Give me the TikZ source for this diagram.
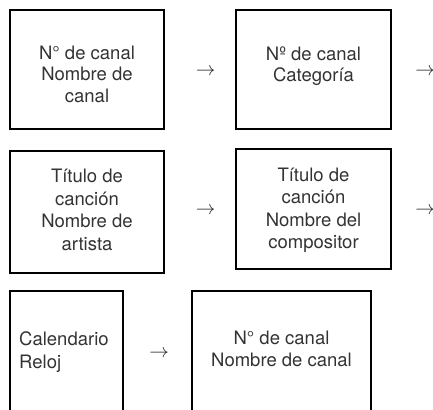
\RequirePackage{fix-cm}
\documentclass[tikz,border=0pt]{standalone}
\usepackage{fontspec}
\setmainfont{TeX Gyre Heros}
\begin{document}
\begin{tikzpicture}[x=1pt,y=-1pt,
  boxframe/.style={draw=black,line width=2pt,inner sep=0pt},
  boxtext/.style={text=black!80,align=center,inner sep=0pt,font=\fontsize{18.5}{21.5}\selectfont},
  boxtextb/.style={boxtext,font=\fontsize{18.5}{22.5}\selectfont},
  arrowsym/.style={text=black!85,inner sep=0pt,font=\fontsize{19.5}{21.5}\selectfont}
]
\useasboundingbox (0,0) rectangle (433,409);
% row 1
\node[boxframe,minimum width=154pt,minimum height=119pt] (b1) at (87,69.5) {};
\node[boxtext] (t1) at (87,74) {N° de canal\\Nombre de\\canal};
\node[arrowsym] (a1) at (205.5,71.5) {$\rightarrow$};
\node[boxframe,minimum width=155pt,minimum height=119pt] (b2) at (313.5,69.5) {};
\node[boxtext] (t2) at (313.5,66) {N\textordmasculine{} de canal\\Categoría};
\node[arrowsym] (a2) at (425,71.5) {$\rightarrow$};
% row 2
\node[boxframe,minimum width=154pt,minimum height=122pt] (b3) at (87,212) {};
\node[boxtextb] (t3) at (87,210) {Título de\\canción\\Nombre de\\artista};
\node[arrowsym] (a3) at (205.5,210.5) {$\rightarrow$};
\node[boxframe,minimum width=155pt,minimum height=120pt] (b4) at (313.5,209) {};
\node[boxtextb] (t4) at (313.5,210.5) {Título de\\canción\\Nombre del\\compositor};
\node[arrowsym] (a4) at (425,210.5) {$\rightarrow$};
% row 3 (open at the bottom)
\coordinate (b5a) at (10,420);
\coordinate (b5b) at (10,291);
\coordinate (b5c) at (123,291);
\coordinate (b5d) at (123,420);
\draw[line width=2pt] (b5a) -- (b5b) -- (b5c) -- (b5d);
\node[boxtext,align=left,anchor=west,font=\fontsize{18.5}{23}\selectfont] (t5) at (19,352) {Calendario\\Reloj};
\node[arrowsym] (a5) at (159,354) {$\rightarrow$};
\coordinate (b6a) at (192,420);
\coordinate (b6b) at (192,291);
\coordinate (b6c) at (371,291);
\coordinate (b6d) at (371,420);
\draw[line width=2pt] (b6a) -- (b6b) -- (b6c) -- (b6d);
\node[boxtext] (t6) at (281.5,349) {N° de canal\\Nombre de canal};
\end{tikzpicture}
\end{document}
